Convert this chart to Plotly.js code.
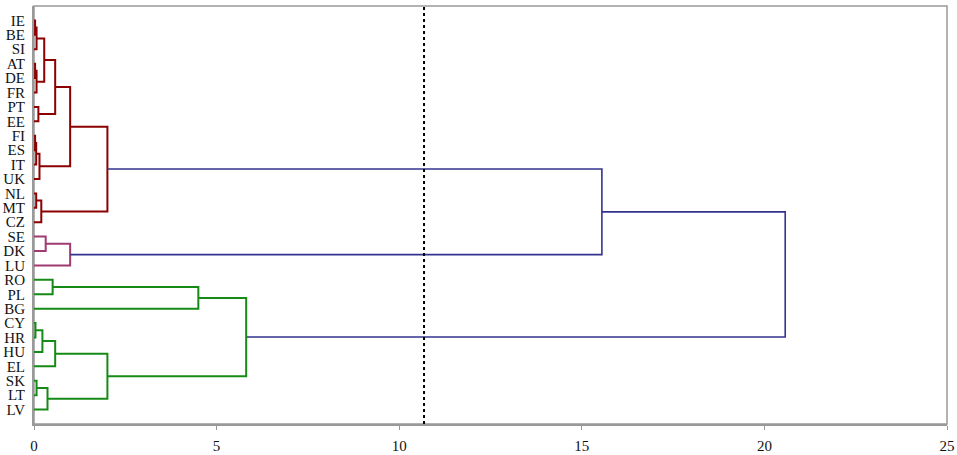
<!DOCTYPE html>
<html>
<head>
<meta charset="utf-8">
<script src="https://cdn.plot.ly/plotly-3.0.1.min.js"></script>
<style>html,body{margin:0;padding:0;background:#fff;}#chart{width:957px;height:455px;}</style>
</head>
<body>
<div id="chart"></div>
<script>
// Leaf labels, top to bottom
const leaves = ["IE","BE","SI","AT","DE","FR","PT","EE","FI","ES","IT","UK","NL","MT","CZ",
                "SE","DK","LU","RO","PL","BG","CY","HR","HU","EL","SK","LT","LV"];
// Linkage (scipy style): node ids 0..27 are leaves, 28+ are merges in this order
const mergeLeft   = [0, 28, 3, 30, 29, 6, 32, 8, 35, 36, 34, 12, 39, 38, 15, 42, 41, 18, 45, 21, 47, 48, 25, 50, 49, 46, 44];
const mergeRight  = [1, 2, 4, 5, 31, 7, 33, 9, 10, 11, 37, 13, 14, 40, 16, 17, 43, 19, 20, 22, 23, 24, 26, 27, 51, 52, 53];
const mergeHeight = [0.03, 0.07, 0.03, 0.07, 0.28, 0.12, 0.58, 0.03, 0.06, 0.15, 0.99, 0.06, 0.20, 2.01,
                     0.32, 0.99, 15.55, 0.51, 4.50, 0.04, 0.23, 0.58, 0.07, 0.37, 2.01, 5.81, 20.57];
const mergeGroup  = ["r","r","r","r","r","r","r","r","r","r","r","r","r","r",
                     "p","p","b","g","g","g","g","g","g","g","g","g","b"];
const xTicks = [0, 5, 10, 15, 20, 25];
const cutoff = 10.68;

const groupColors = {r: "#8B0000", p: "#A03A72", b: "#33338F", g: "#168A16"};
const groupWidths = {r: 2, p: 2, b: 1.6, g: 2};

// node positions
const nodeY = leaves.map((_, i) => i + 1);
const nodeH = leaves.map(() => 0);
const segs = {r: {x: [], y: []}, p: {x: [], y: []}, b: {x: [], y: []}, g: {x: [], y: []}};
for (let k = 0; k < mergeLeft.length; k++) {
  const a = mergeLeft[k], b = mergeRight[k], h = mergeHeight[k];
  const s = segs[mergeGroup[k]];
  s.x.push(nodeH[a], h, h, nodeH[b], null);
  s.y.push(nodeY[a], nodeY[a], nodeY[b], nodeY[b], null);
  nodeY.push((nodeY[a] + nodeY[b]) / 2);
  nodeH.push(h);
}

const traces = Object.keys(segs).map(g => ({
  type: "scatter", mode: "lines", x: segs[g].x, y: segs[g].y,
  line: {color: groupColors[g], width: groupWidths[g]},
  hoverinfo: "skip", showlegend: false
}));

const layout = {
  width: 957, height: 455,
  margin: {l: 34, r: 10, t: 6, b: 31},
  paper_bgcolor: "#fff", plot_bgcolor: "#fff",
  font: {family: "Liberation Serif, Times New Roman, serif", size: 15, color: "#111"},
  xaxis: {
    range: [0, 25], tickvals: xTicks, ticktext: xTicks.map(String),
    showgrid: false, zeroline: false, showline: true, linecolor: "#999", linewidth: 2,
    ticks: "outside", ticklen: 4, tickcolor: "#999", tickwidth: 1,
    ticklabelstandoff: 3
  },
  yaxis: {
    range: [29, 0], tickvals: leaves.map((_, i) => i + 1), ticktext: leaves,
    showgrid: false, zeroline: false, showline: true, linecolor: "#999", linewidth: 2,
    ticks: "", ticklabelstandoff: 4
  },
  shapes: [
    {type: "rect", xref: "paper", yref: "paper", x0: 0, x1: 1, y0: 0, y1: 1,
     line: {color: "#999", width: 1.5}, layer: "below"},
    {type: "line", xref: "x", yref: "paper", x0: cutoff, x1: cutoff, y0: 0, y1: 1,
     line: {color: "#000", width: 2, dash: "dot"}}
  ]
};

Plotly.newPlot("chart", traces, layout, {staticPlot: true, displayModeBar: false});
</script>
</body>
</html>
